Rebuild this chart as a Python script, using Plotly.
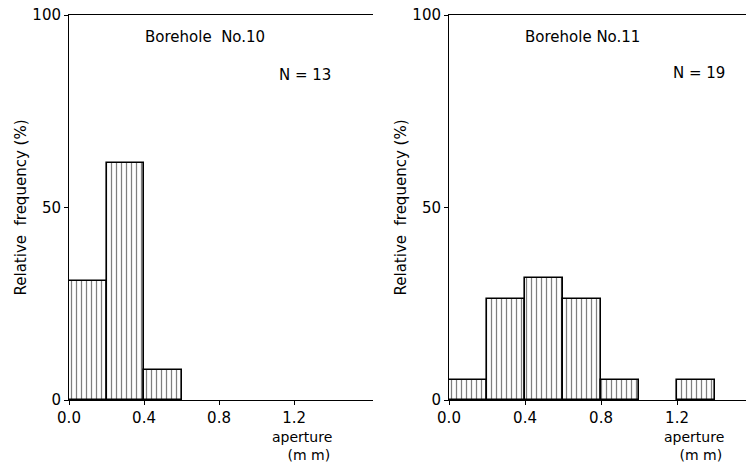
import plotly.graph_objects as go

bin_centers = [0.1, 0.3, 0.5, 0.7, 0.9, 1.1, 1.3]
freq_bh10 = [30.8, 61.5, 7.7, 0, 0, 0, 0]
freq_bh11 = [5.3, 26.3, 31.6, 26.3, 5.3, 0, 5.3]
x_ticks = [0.0, 0.4, 0.8, 1.2]
x_tick_labels = ["0.0", "0.4", "0.8", "1.2"]
y_ticks = [0, 50, 100]
y_tick_labels = ["0", "50", "100"]
titles = ["Borehole  No.10", "Borehole No.11"]
n_labels = ["N = 13", "N = 19"]

W, H = 747, 471
font = "DejaVu Sans"

fig = go.Figure()

panels = [
    dict(freq=freq_bh10, xd=[69 / W, 373 / W], xr=[0, 1.621], xa="x", ya="y",
         title_x=0.725, n_x=1.11, n_y=84.5, ap_x=1.24),
    dict(freq=freq_bh11, xd=[449 / W, 746 / W], xr=[0, 1.563], xa="x2", ya="y2",
         title_x=0.705, n_x=1.17, n_y=85, ap_x=1.29),
]

for i, p in enumerate(panels):
    lw = [1.6 if v > 0 else 0 for v in p["freq"]]
    fig.add_trace(go.Bar(
        x=bin_centers, y=p["freq"], width=0.2,
        xaxis=p["xa"], yaxis=p["ya"],
        marker=dict(color="white", line=dict(color="black", width=lw),
                    pattern=dict(shape="|", fgcolor="black", bgcolor="white",
                                 size=5, solidity=0.25)),
        showlegend=False,
    ))

axis_common = dict(showgrid=False, zeroline=False, showline=True, linecolor="black",
                   linewidth=1, ticks="outside", ticklen=4, tickcolor="black",
                   automargin=False,
                   tickfont=dict(family=font, size=15, color="black"))

layout = dict(
    width=W, height=H, plot_bgcolor="white", paper_bgcolor="white",
    margin=dict(l=0, r=0, t=15, b=71), bargap=0,
)
for i, p in enumerate(panels):
    sx = "" if i == 0 else "2"
    layout["xaxis" + sx] = dict(axis_common, domain=p["xd"], range=p["xr"],
                                tickvals=x_ticks, ticktext=x_tick_labels, mirror=True,
                                anchor="y" + sx)
    layout["yaxis" + sx] = dict(axis_common, domain=[0, 1], range=[0, 100],
                                tickvals=y_ticks, ticktext=y_tick_labels,
                                anchor="x" + sx,
                                title=dict(text="Relative  frequency (%)",
                                           font=dict(family=font, size=15, color="black"),
                                           standoff=2))
fig.update_layout(**layout)

ann = []
for i, p in enumerate(panels):
    sx = "" if i == 0 else "2"
    ann.append(dict(x=p["title_x"], y=94.3, xref="x" + sx, yref="y" + sx, text=titles[i],
                    showarrow=False, font=dict(family=font, size=15, color="black")))
    ann.append(dict(x=p["n_x"], y=p["n_y"], xref="x" + sx, yref="y" + sx, text=n_labels[i],
                    showarrow=False, xanchor="left",
                    font=dict(family=font, size=15, color="black")))
    ann.append(dict(x=p["ap_x"], y=-0.07, xref="x" + sx, yref="paper",
                    text="aperture<br>   (m m)", showarrow=False, yanchor="top",
                    align="center",
                    font=dict(family=font, size=14, color="black")))
fig.update_layout(annotations=ann)

fig.write_html("out.html", config={"displayModeBar": False},
               post_script="document.body.style.margin='0';")
